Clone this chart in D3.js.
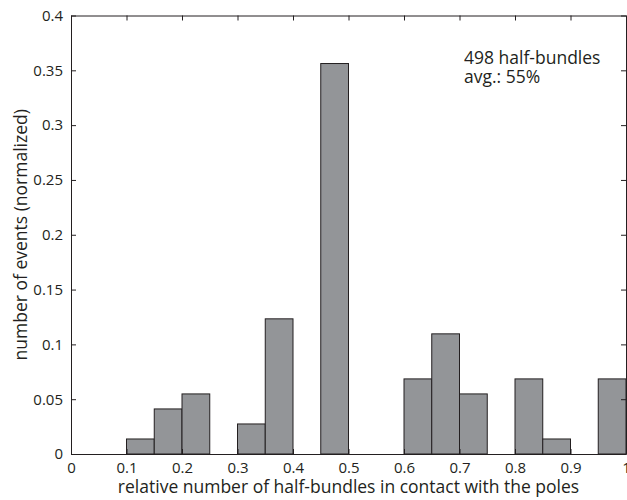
<!DOCTYPE html>
<html lang="en">
<head>
<meta charset="UTF-8">
<title>Half-bundle histogram</title>
<style>
  body { margin: 0; background: #fff; }
  svg { display: block; font-family: "Open Sans", sans-serif; }
  .domain, .tick line { stroke: #231f20; }
</style>
</head>
<body>
<script src="https://d3js.org/d3.v7.min.js"></script>
<script>
// bin left edges (width 0.05) and normalized counts
const binStarts = [0.10, 0.15, 0.20, 0.30, 0.35, 0.45, 0.60, 0.65, 0.70, 0.80, 0.85, 0.95];
const binValues = [0.0137, 0.0411, 0.0548, 0.0274, 0.1233, 0.3562, 0.0685, 0.1096, 0.0548, 0.0685, 0.0137, 0.0685];
const binWidth = 0.05;
const xTicks = [0, 0.1, 0.2, 0.3, 0.4, 0.5, 0.6, 0.7, 0.8, 0.9, 1];
const yTicks = [0, 0.05, 0.1, 0.15, 0.2, 0.25, 0.3, 0.35, 0.4];
const notes = ["498 half-bundles", "avg.: 55%"];

const width = 627, height = 500;
const margin = {left: 71, right: 1, top: 15.5, bottom: 46};

const svg = d3.select("body").append("svg")
    .attr("width", width)
    .attr("height", height);

const x = d3.scaleLinear().domain([0, 1]).range([margin.left, width - margin.right]);
const y = d3.scaleLinear().domain([0, 0.4]).range([height - margin.bottom, margin.top]);

// bars
svg.append("g")
  .selectAll("rect")
  .data(binStarts.map((s, i) => ({s, v: binValues[i]})))
  .join("rect")
    .attr("x", d => x(d.s))
    .attr("y", d => y(d.v))
    .attr("width", d => x(d.s + binWidth) - x(d.s))
    .attr("height", d => y(0) - y(d.v))
    .attr("fill", "#939598")
    .attr("stroke", "#231f20")
    .attr("stroke-width", 1);

const fmt = d => d3.format("~g")(d);

function styleAxis(g) {
  g.attr("font-family", null).attr("font-size", 15);
  g.selectAll(".tick text").attr("fill", "#231f20");
}

// bottom axis, ticks inside
svg.append("g")
    .attr("transform", `translate(0,${y(0)})`)
    .call(d3.axisBottom(x).tickValues(xTicks).tickFormat(fmt).tickSizeInner(-5).tickSizeOuter(0).tickPadding(8))
    .call(styleAxis);

// top axis (mirror, no labels)
svg.append("g")
    .attr("transform", `translate(0,${y(0.4)})`)
    .call(d3.axisTop(x).tickValues(xTicks).tickFormat("").tickSizeInner(-5).tickSizeOuter(0));

// left axis
svg.append("g")
    .attr("transform", `translate(${x(0)},0)`)
    .call(d3.axisLeft(y).tickValues(yTicks).tickFormat(fmt).tickSizeInner(-5).tickSizeOuter(0).tickPadding(8))
    .call(styleAxis);

// right axis (mirror)
svg.append("g")
    .attr("transform", `translate(${x(1)},0)`)
    .call(d3.axisRight(y).tickValues(yTicks).tickFormat("").tickSizeInner(-5).tickSizeOuter(0));

// axis titles
svg.append("text")
    .attr("x", (x(0) + x(1)) / 2)
    .attr("y", 493)
    .attr("text-anchor", "middle")
    .attr("font-size", 17.5)
    .attr("fill", "#231f20")
    .text("relative number of half-bundles in contact with the poles");

svg.append("text")
    .attr("transform", `translate(27,${(y(0) + y(0.4)) / 2}) rotate(-90)`)
    .attr("text-anchor", "middle")
    .attr("font-size", 17.5)
    .attr("fill", "#231f20")
    .text("number of events (normalized)");

// annotation
svg.append("g").selectAll("text")
  .data(notes)
  .join("text")
    .attr("x", 464)
    .attr("y", (d, i) => 64 + i * 18.5)
    .attr("font-size", 17.5)
    .attr("fill", "#231f20")
    .text(d => d);
</script>
</body>
</html>
